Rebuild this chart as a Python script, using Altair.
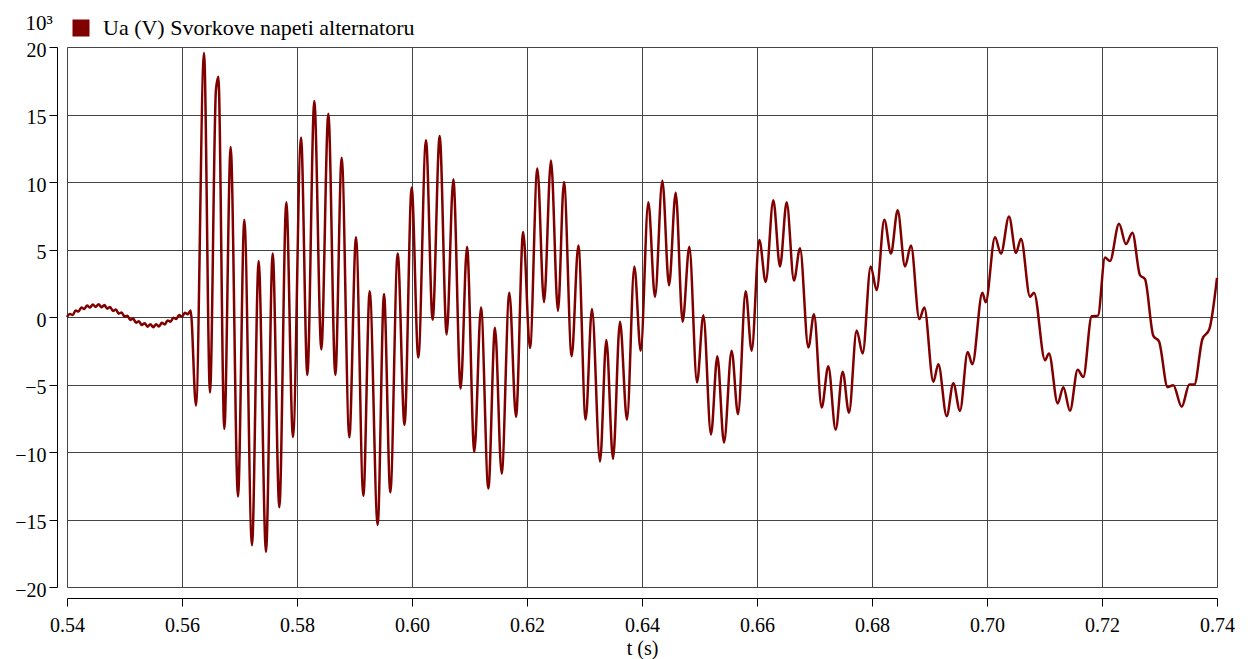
import altair as alt
import pandas as pd

# time (s)
t_vals = [
    0.5400, 0.5405, 0.5410, 0.5415, 0.5420, 0.5425, 0.5430, 0.5435, 0.5440, 0.5445,
    0.5450, 0.5455, 0.5460, 0.5465, 0.5470, 0.5475, 0.5480, 0.5485, 0.5490, 0.5495,
    0.5500, 0.5505, 0.5510, 0.5515, 0.5520, 0.5525, 0.5530, 0.5535, 0.5540, 0.5545,
    0.5550, 0.5555, 0.5560, 0.5565, 0.5570, 0.5575, 0.5580, 0.5585, 0.5590, 0.5595,
    0.5600, 0.5605, 0.5610, 0.5615,
    0.56243, 0.56383, 0.56487, 0.56590, 0.56632, 0.56736, 0.56846, 0.56974, 0.57084,
    0.57217, 0.57333, 0.57461, 0.57577, 0.57693, 0.57814, 0.57930, 0.58070, 0.58180,
    0.58301, 0.58423, 0.58545, 0.58667, 0.58777, 0.58910, 0.59026, 0.59154, 0.59264,
    0.59403, 0.59513, 0.59623, 0.59751, 0.59870, 0.59994, 0.60110, 0.60243, 0.60359,
    0.60481, 0.60603, 0.60719, 0.60846, 0.60957, 0.61084, 0.61200, 0.61328, 0.61443,
    0.61559, 0.61693, 0.61809, 0.61933, 0.62052, 0.62180, 0.62296, 0.62417, 0.62539,
    0.62643, 0.62777, 0.62893, 0.63020, 0.63130, 0.63270, 0.63380, 0.63496, 0.63617,
    0.63739, 0.63867, 0.63977, 0.64110, 0.64226, 0.64354, 0.64470, 0.64586, 0.64707,
    0.64823, 0.64957, 0.65067, 0.65200, 0.65310, 0.65426, 0.65559, 0.65670, 0.65803,
    0.65907, 0.66041, 0.66151, 0.66284, 0.66400, 0.66516, 0.66643, 0.66748, 0.66893,
    0.66991, 0.67125, 0.67240, 0.67368, 0.67490, 0.67600, 0.67733, 0.67838, 0.67977,
    0.68081, 0.68214, 0.68330, 0.68446, 0.68574, 0.68678, 0.68823, 0.68910, 0.69067,
    0.69154, 0.69299, 0.69414, 0.69530, 0.69664, 0.69745, 0.69920, 0.69977, 0.70139,
    0.70243, 0.70383, 0.70504, 0.70591, 0.70748, 0.70817, 0.71009, 0.71078, 0.71229,
    0.71328, 0.71443, 0.71577, 0.71675, 0.71820, 0.71930, 0.72052, 0.72139, 0.72296,
    0.72417, 0.72528, 0.72661, 0.72748, 0.72893, 0.72991, 0.73142, 0.73240, 0.73386,
    0.73519, 0.73606, 0.73745, 0.73867, 0.74000,
]

# terminal voltage Ua (x 10^3 V)
ua_vals = [
    0.00, 0.22, 0.15, 0.48, 0.40, 0.70, 0.60, 0.85, 0.70, 0.93,
    0.75, 0.94, 0.72, 0.88, 0.62, 0.74, 0.45, 0.55, 0.25, 0.34,
    0.02, 0.10, -0.22, -0.12, -0.42, -0.31, -0.60, -0.46, -0.72, -0.54,
    -0.76, -0.54, -0.70, -0.43, -0.55, -0.25, -0.35, -0.05, -0.15, 0.14,
    0.02, 0.31, 0.20, 0.48,
    -6.56, 19.55, -5.6, 16.8, 17.8, -8.3, 12.6, -13.3, 7.2,
    -16.9, 4.15, -17.4, 4.7, -14.1, 8.5, -8.9, 13.3, -4.3,
    16.0, -2.4, 15.05, -4.3, 11.8, -8.9, 5.9, -13.25, 1.9,
    -15.4, 1.7, -13.0, 4.7, -8.0, 9.6, -3.0, 13.1, -0.2,
    13.4, -1.3, 10.2, -5.3, 5.2, -10.0, 0.7, -12.7, -0.8,
    -11.6, 1.8, -7.4, 6.3, -2.3, 11.0, 1.1, 11.6, 0.45,
    10.0, -2.9, 5.3, -7.6, 0.6, -10.7, -1.7, -10.5, -0.35,
    -7.6, 3.75, -2.5, 8.5, 1.5, 10.1, 2.35, 9.2, -0.35,
    5.2, -4.85, 0.13, -8.7, -2.9, -9.3, -2.5, -7.2, 1.9,
    -2.5, 5.7, 2.6, 8.65, 3.75, 8.5, 2.7, 5.1, -2.25,
    0.2, -6.7, -3.65, -8.35, -4.05, -7.1, -1.0, -2.7, 3.75,
    2.0, 7.2, 4.7, 7.9, 3.75, 5.3, -0.15, 0.7, -4.8,
    -3.5, -7.35, -4.9, -6.95, -2.6, -3.5, 1.8, 1.1, 5.9,
    4.7, 7.45, 4.75, 5.8, 1.5, 1.8, -3.2, -2.7, -6.4,
    -5.2, -6.95, -3.9, -4.45, 0.05, 0.1, 4.4, 4.15, 6.9,
    5.4, 6.25, 3.1, 2.8, -1.4, -1.8, -5.2, -5.05, -6.65,
    -5.0, -5.0, -1.65, -0.9, 2.9,
]

series_name = "Ua (V) Svorkove napeti alternatoru"
x_ticks = [0.54, 0.56, 0.58, 0.60, 0.62, 0.64, 0.66, 0.68, 0.70, 0.72, 0.74]
y_ticks = [-20, -15, -10, -5, 0, 5, 10, 15, 20]

df = pd.DataFrame({"t": t_vals, "ua": ua_vals, "series": series_name})

FONT = "Liberation Serif"
RED = "#800000"

chart = alt.Chart(df).mark_line(strokeWidth=2.5, interpolate="monotone").encode(
    x=alt.X(
        "t:Q",
        scale=alt.Scale(domain=[0.54, 0.74], nice=False, zero=False),
        axis=alt.Axis(
            values=x_ticks, format=".2f", title="t (s)", offset=11,
            grid=True, gridColor="#444444", gridWidth=1, gridOpacity=1,
            domainColor="black", tickColor="black", tickSize=8,
            labelFont=FONT, labelFontSize=20, labelColor="black", labelPadding=9,
            labelAlign="center", labelFlush=False, labelOverlap=False,
            titleFont=FONT, titleFontSize=20, titleFontWeight="normal",
            titleColor="black", titlePadding=3,
        ),
    ),
    y=alt.Y(
        "ua:Q",
        scale=alt.Scale(domain=[-20, 20], nice=False, zero=False),
        axis=alt.Axis(
            values=y_ticks, format="d", title="10³", offset=10,
            grid=True, gridColor="#444444", gridWidth=1, gridOpacity=1,
            domainColor="black", tickColor="black", tickSize=8,
            labelFont=FONT, labelFontSize=20, labelColor="black", labelPadding=3,
            labelOffset=3, labelFlush=False, labelOverlap=False,
            titleFont=FONT, titleFontSize=21, titleFontWeight="normal",
            titleColor="black", titleAngle=0, titleAlign="left",
            titleBaseline="middle", titleX=-32, titleY=-24,
        ),
    ),
    color=alt.Color(
        "series:N",
        scale=alt.Scale(range=[RED]),
        legend=alt.Legend(
            title=None, orient="none", legendX=3, legendY=-30,
            symbolType="square", symbolSize=289, symbolStrokeWidth=0,
            symbolFillColor=RED, symbolOpacity=1, labelFont=FONT,
            labelFontSize=22, labelColor="black", labelOffset=11,
            labelLimit=0, padding=0,
        ),
    ),
).properties(
    width=1150,
    height=540,
    padding={"left": 59, "top": 39, "right": 20, "bottom": 72},
    autosize=alt.AutoSizeParams(type="none"),
).configure_view(
    stroke="black", strokeWidth=1
).configure(background="white")

chart.save("out.html", embed_options={"renderer": "svg", "actions": False})
